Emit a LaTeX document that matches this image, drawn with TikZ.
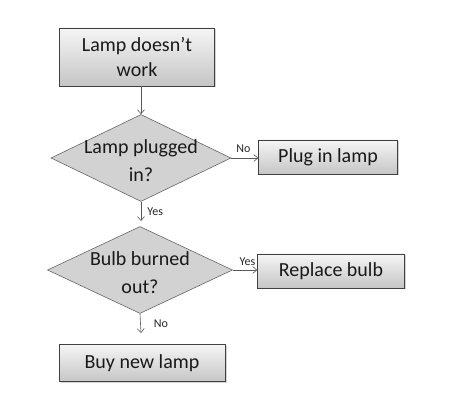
\documentclass[tikz,border=0pt]{standalone}
\usepackage{fontspec}
\setmainfont{Carlito}
\usetikzlibrary{shapes.geometric,shadows,arrows.meta}
\begin{document}
\begin{tikzpicture}[x=1pt,y=-1pt,
  txt/.style={font=\fontsize{20}{25}\selectfont, text=black!90, align=center},
  dtxt/.style={font=\fontsize{20}{28}\selectfont, text=black!90, align=center},
  procbox/.style={draw=black!75, line width=0.6pt, top color=gray!8, bottom color=gray!45,
    drop shadow={shadow xshift=1.5pt, shadow yshift=-1.5pt, opacity=0.35},
    inner sep=0pt, txt},
  decide/.style={diamond, draw=black!60, line width=0.6pt, fill=gray!35, inner sep=0pt},
  conn/.style={draw=black!65, line width=0.6pt, -{Straight Barb[length=4pt,width=7pt]}},
  lbl/.style={font=\fontsize{12}{14}\selectfont, text=black!85, inner sep=0pt}]
\useasboundingbox (0,0) rectangle (459,403);
\node[procbox, minimum width=155, minimum height=58] (start) at (137,57) {Lamp doesn’t\\work};
\node[decide, minimum width=180, minimum height=87,
  label={[dtxt, yshift=-3pt]center:Lamp plugged\\in?}] (d1) at (141,158) {};
\node[procbox, minimum width=139, minimum height=34] (plug) at (328,157) {Plug in lamp};
\node[decide, minimum width=185, minimum height=87,
  label={[dtxt, yshift=-3pt]center:Bulb burned\\out?}] (d2) at (140,270) {};
\node[procbox, minimum width=147, minimum height=34] (repl) at (331,271) {Replace bulb};
\node[procbox, minimum width=166, minimum height=37] (buy) at (142,363) {Buy new lamp};
\coordinate (y1) at (141,221);
\coordinate (n2) at (141,333);
\draw[conn] (start.south -| d1.north) -- (d1.north);
\draw[conn] (d1.east) -- (plug.west |- d1.east) node[lbl, pos=0.45, above=5pt] {No};
\draw[conn] (d1.south) -- (y1) node[lbl, midway, right=6pt] {Yes};
\draw[conn] (d2.east) -- (repl.west |- d2.east) node[lbl, pos=0.6, above=4pt] {Yes};
\draw[conn] (d2.south) -- (n2) node[lbl, midway, right=13pt] {No};
\end{tikzpicture}
\end{document}
